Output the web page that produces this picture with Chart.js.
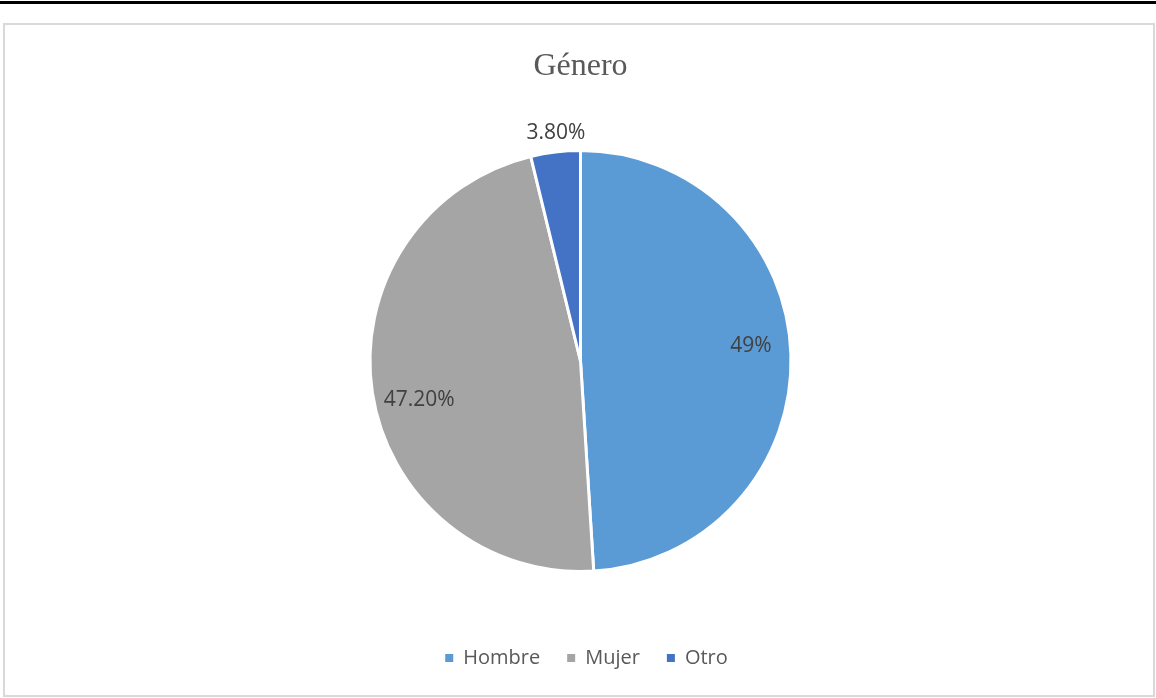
<!DOCTYPE html>
<html>
<head>
<meta charset="utf-8">
<script src="https://cdn.jsdelivr.net/npm/chart.js@4.4.1/dist/chart.umd.min.js"></script>
<style>
  html, body { margin: 0; padding: 0; background: #ffffff; }
  body { width: 1156px; height: 698px; position: relative; overflow: hidden; }
  .rule { position: absolute; left: 0; top: 1px; width: 1156px; height: 3px; background: #000000; }
  .frame { position: absolute; left: 3px; top: 23px; width: 1152px; height: 674px;
           box-sizing: border-box; border: 2px solid #d9d9d9; }
  #chart { position: absolute; left: 0; top: 0; }
</style>
</head>
<body>
<div class="rule"></div>
<div class="frame"></div>
<canvas id="chart" width="1156" height="698"></canvas>
<script>
// Respuestas por género
const categories = ['Hombre', 'Mujer', 'Otro'];
const shares = [49, 47.2, 3.8];
const valueLabels = ['49%', '47.20%', '3.80%'];
const sliceColors = ['#5B9BD5', '#A5A5A5', '#4472C4'];

// Etiquetas de valor: dentro de las porciones grandes, fuera de la pequeña
const sliceLabels = {
  id: 'sliceLabels',
  afterDatasetsDraw(chart) {
    const ctx = chart.ctx;
    const arcs = chart.getDatasetMeta(0).data;
    const total = shares.reduce((a, b) => a + b, 0);
    ctx.save();
    ctx.font = '21px "Open Sans"';
    ctx.fillStyle = '#404040';
    ctx.textAlign = 'center';
    ctx.textBaseline = 'middle';
    arcs.forEach((arc, i) => {
      const { x, y, startAngle, endAngle, outerRadius } = arc.getProps(
        ['x', 'y', 'startAngle', 'endAngle', 'outerRadius'], true);
      let angle = (startAngle + endAngle) / 2;
      let dist;
      if (shares[i] / total < 0.1) {
        dist = outerRadius + 21;
      } else {
        angle -= 4 * Math.PI / 180;
        dist = outerRadius * 0.8;
      }
      ctx.fillText(valueLabels[i], x + 3 + Math.cos(angle) * dist, y + 2 + Math.sin(angle) * dist);
    });
    ctx.restore();
  }
};

// Desplaza ligeramente la leyenda hacia la derecha
const legendShift = {
  id: 'legendShift',
  afterLayout(chart) {
    if (chart.legend) {
      chart.legend.left += 6;
      chart.legend.right += 6;
    }
  }
};

new Chart(document.getElementById('chart'), {
  type: 'pie',
  data: {
    labels: categories,
    datasets: [{
      data: shares,
      backgroundColor: sliceColors,
      borderColor: '#ffffff',
      borderWidth: 3
    }]
  },
  options: {
    responsive: false,
    animation: false,
    layout: { padding: { left: 368.5, right: 363.5, top: 0, bottom: 20 } },
    plugins: {
      tooltip: { enabled: false },
      title: {
        display: true,
        text: 'Género',
        color: '#595959',
        font: { family: '"Liberation Serif"', size: 32, weight: 'normal', lineHeight: 1.2 },
        padding: { top: 47, bottom: 15.6 }
      },
      legend: {
        position: 'bottom',
        labels: {
          color: '#595959',
          font: { family: '"Open Sans"', size: 20 },
          boxWidth: 8,
          boxHeight: 8,
          padding: 27,
          generateLabels(chart) {
            return Chart.overrides.pie.plugins.legend.labels.generateLabels(chart).map(item => {
              item.lineWidth = 0;
              item.strokeStyle = 'rgba(0,0,0,0)';
              return item;
            });
          }
        }
      }
    }
  },
  plugins: [sliceLabels, legendShift]
});
</script>
</body>
</html>
